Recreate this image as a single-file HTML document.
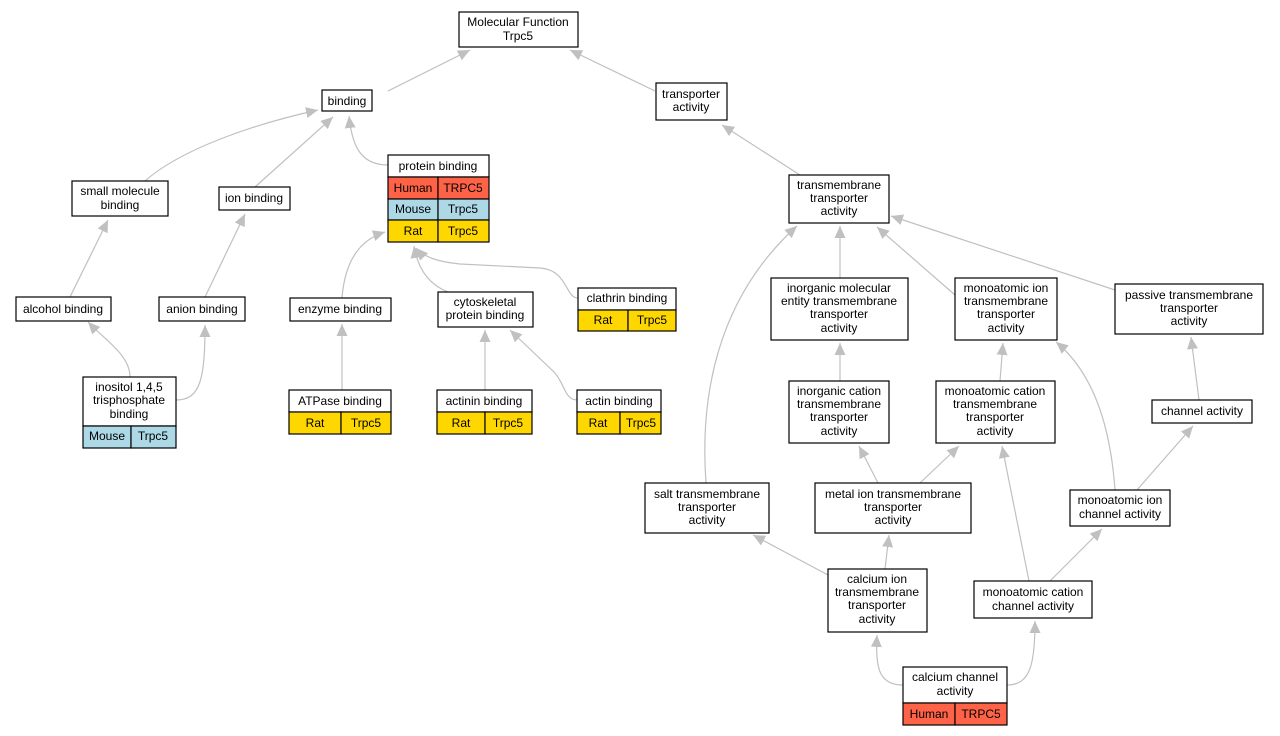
<!DOCTYPE html>
<html><head><meta charset="utf-8"><style>
html,body{margin:0;padding:0;background:#fff}
svg{display:block}
text{font-family:"Liberation Sans",Arial,sans-serif;font-size:12px;fill:#000;text-anchor:middle}
.n{fill:#fff;stroke:#000;stroke-width:1.2}
.h{fill:#ff6347;stroke:#000;stroke-width:1.2}
.m{fill:#add8e6;stroke:#000;stroke-width:1.2}
.r{fill:#ffd700;stroke:#000;stroke-width:1.2}
.e{fill:none;stroke:#c0c0c0;stroke-width:1.2;marker-end:url(#a)}
</style></head><body>
<svg width="1280" height="736" viewBox="0 0 1280 736" xmlns="http://www.w3.org/2000/svg">
<defs><marker id="a" markerUnits="userSpaceOnUse" markerWidth="14" markerHeight="12" refX="12" refY="5.5" orient="auto"><path d="M0,0 L12,5.5 L0,11 Z" fill="#c0c0c0"/></marker></defs>
<path class="e" d="M388,91 L470,50"/>
<path class="e" d="M655,91 L570,50"/>
<path class="e" d="M145,181 C180,150 250,125 318,110"/>
<path class="e" d="M255,187 L333,117"/>
<path class="e" d="M388,165 C360,165 352,145 349,116"/>
<path class="e" d="M800,175 L722,125"/>
<path class="e" d="M70,297 L108,220"/>
<path class="e" d="M205,297 L245,214"/>
<path class="e" d="M130,377 C130,355 105,340 88,322"/>
<path class="e" d="M176,400 C200,400 205,380 205,325"/>
<path class="e" d="M342,298 C345,260 360,240 385,232"/>
<path class="e" d="M448,292 C430,285 418,270 414,246"/>
<path class="e" d="M578,298 C565,298 568,270 540,268 L460,264 C440,262 425,258 416,248"/>
<path class="e" d="M342,390 L342,324"/>
<path class="e" d="M485,390 L485,330"/>
<path class="e" d="M577,400 C565,400 565,385 555,373 L510,330"/>
<path class="e" d="M706,483 C700,400 715,300 797,226"/>
<path class="e" d="M840,278 L840,226"/>
<path class="e" d="M955,295 L877,227"/>
<path class="e" d="M1115,290 L891,216"/>
<path class="e" d="M840,381 L840,343"/>
<path class="e" d="M1000,381 L1003,343"/>
<path class="e" d="M1199,400 L1191,337"/>
<path class="e" d="M878,483 L859,446"/>
<path class="e" d="M920,483 L959,446"/>
<path class="e" d="M1115,490 C1110,420 1090,370 1056,342"/>
<path class="e" d="M1137,490 L1193,426"/>
<path class="e" d="M828,575 L753,535"/>
<path class="e" d="M885,569 L889,535"/>
<path class="e" d="M1029,581 L1002,446"/>
<path class="e" d="M1050,581 L1102,529"/>
<path class="e" d="M903,685 C880,685 875,670 877,635"/>
<path class="e" d="M1007,685 C1030,685 1035,665 1035,621"/>
<rect class="n" x="459" y="12" width="119" height="35"/><text x="518" y="26">Molecular Function</text><text x="518" y="40">Trpc5</text>
<rect class="n" x="322" y="90" width="50" height="21"/><text x="347" y="105">binding</text>
<rect class="n" x="656" y="83" width="71" height="37"/><text x="691" y="98">transporter</text><text x="691" y="111">activity</text>
<rect class="n" x="72" y="181" width="96" height="35"/><text x="120" y="195">small molecule</text><text x="120" y="209">binding</text>
<rect class="n" x="219" y="187" width="71" height="23"/><text x="254" y="202">ion binding</text>
<rect class="n" x="388" y="155" width="101" height="22"/><text x="438" y="170">protein binding</text>
<rect class="h" x="388" y="177" width="50" height="22"/><rect class="h" x="438" y="177" width="51" height="22"/><text x="413" y="192">Human</text><text x="463" y="192">TRPC5</text>
<rect class="m" x="388" y="199" width="50" height="21"/><rect class="m" x="438" y="199" width="51" height="21"/><text x="413" y="213">Mouse</text><text x="463" y="213">Trpc5</text>
<rect class="r" x="388" y="220" width="50" height="22"/><rect class="r" x="438" y="220" width="51" height="22"/><text x="413" y="235">Rat</text><text x="463" y="235">Trpc5</text>
<rect class="n" x="789" y="175" width="100" height="48"/><text x="839" y="189">transmembrane</text><text x="839" y="202">transporter</text><text x="839" y="215">activity</text>
<rect class="n" x="16" y="297" width="95" height="24"/><text x="63" y="313">alcohol binding</text>
<rect class="n" x="159" y="297" width="86" height="24"/><text x="202" y="313">anion binding</text>
<rect class="n" x="290" y="298" width="101" height="23"/><text x="340" y="313">enzyme binding</text>
<rect class="n" x="438" y="292" width="95" height="35"/><text x="485" y="306">cytoskeletal</text><text x="485" y="319">protein binding</text>
<rect class="n" x="578" y="288" width="98" height="22"/><text x="627" y="302">clathrin binding</text>
<rect class="r" x="578" y="310" width="50" height="21"/><rect class="r" x="628" y="310" width="48" height="21"/><text x="603" y="324">Rat</text><text x="652" y="324">Trpc5</text>
<rect class="n" x="771" y="278" width="137" height="62"/><text x="839" y="292">inorganic molecular</text><text x="839" y="305">entity transmembrane</text><text x="839" y="318">transporter</text><text x="839" y="332">activity</text>
<rect class="n" x="955" y="278" width="102" height="62"/><text x="1006" y="292">monoatomic ion</text><text x="1006" y="305">transmembrane</text><text x="1006" y="318">transporter</text><text x="1006" y="332">activity</text>
<rect class="n" x="1115" y="284" width="148" height="50"/><text x="1189" y="299">passive transmembrane</text><text x="1189" y="312">transporter</text><text x="1189" y="325">activity</text>
<rect class="n" x="83" y="377" width="93" height="49"/><text x="129" y="391">inositol 1,4,5</text><text x="129" y="404">trisphosphate</text><text x="129" y="418">binding</text>
<rect class="m" x="83" y="426" width="48" height="22"/><rect class="m" x="131" y="426" width="45" height="22"/><text x="107" y="440">Mouse</text><text x="153" y="440">Trpc5</text>
<rect class="n" x="289" y="390" width="102" height="22"/><text x="340" y="405">ATPase binding</text>
<rect class="r" x="289" y="412" width="52" height="22"/><rect class="r" x="341" y="412" width="50" height="22"/><text x="315" y="427">Rat</text><text x="366" y="427">Trpc5</text>
<rect class="n" x="437" y="390" width="95" height="22"/><text x="484" y="405">actinin binding</text>
<rect class="r" x="437" y="412" width="48" height="22"/><rect class="r" x="485" y="412" width="47" height="22"/><text x="461" y="427">Rat</text><text x="508" y="427">Trpc5</text>
<rect class="n" x="577" y="390" width="84" height="22"/><text x="619" y="405">actin binding</text>
<rect class="r" x="577" y="412" width="43" height="22"/><rect class="r" x="620" y="412" width="41" height="22"/><text x="598" y="427">Rat</text><text x="641" y="427">Trpc5</text>
<rect class="n" x="789" y="381" width="100" height="62"/><text x="839" y="395">inorganic cation</text><text x="839" y="408">transmembrane</text><text x="839" y="421">transporter</text><text x="839" y="435">activity</text>
<rect class="n" x="936" y="381" width="119" height="62"/><text x="995" y="395">monoatomic cation</text><text x="995" y="408">transmembrane</text><text x="995" y="421">transporter</text><text x="995" y="435">activity</text>
<rect class="n" x="1152" y="400" width="100" height="23"/><text x="1202" y="415">channel activity</text>
<rect class="n" x="645" y="483" width="124" height="50"/><text x="707" y="498">salt transmembrane</text><text x="707" y="511">transporter</text><text x="707" y="524">activity</text>
<rect class="n" x="815" y="483" width="156" height="50"/><text x="893" y="498">metal ion transmembrane</text><text x="893" y="511">transporter</text><text x="893" y="524">activity</text>
<rect class="n" x="1070" y="490" width="100" height="36"/><text x="1120" y="504">monoatomic ion</text><text x="1120" y="518">channel activity</text>
<rect class="n" x="828" y="569" width="99" height="63"/><text x="877" y="583">calcium ion</text><text x="877" y="596">transmembrane</text><text x="877" y="609">transporter</text><text x="877" y="623">activity</text>
<rect class="n" x="974" y="581" width="118" height="37"/><text x="1033" y="596">monoatomic cation</text><text x="1033" y="610">channel activity</text>
<rect class="n" x="903" y="667" width="104" height="36"/><text x="955" y="681">calcium channel</text><text x="955" y="695">activity</text>
<rect class="h" x="903" y="703" width="52" height="22"/><rect class="h" x="955" y="703" width="52" height="22"/><text x="929" y="718">Human</text><text x="981" y="718">TRPC5</text>
</svg>
</body></html>
